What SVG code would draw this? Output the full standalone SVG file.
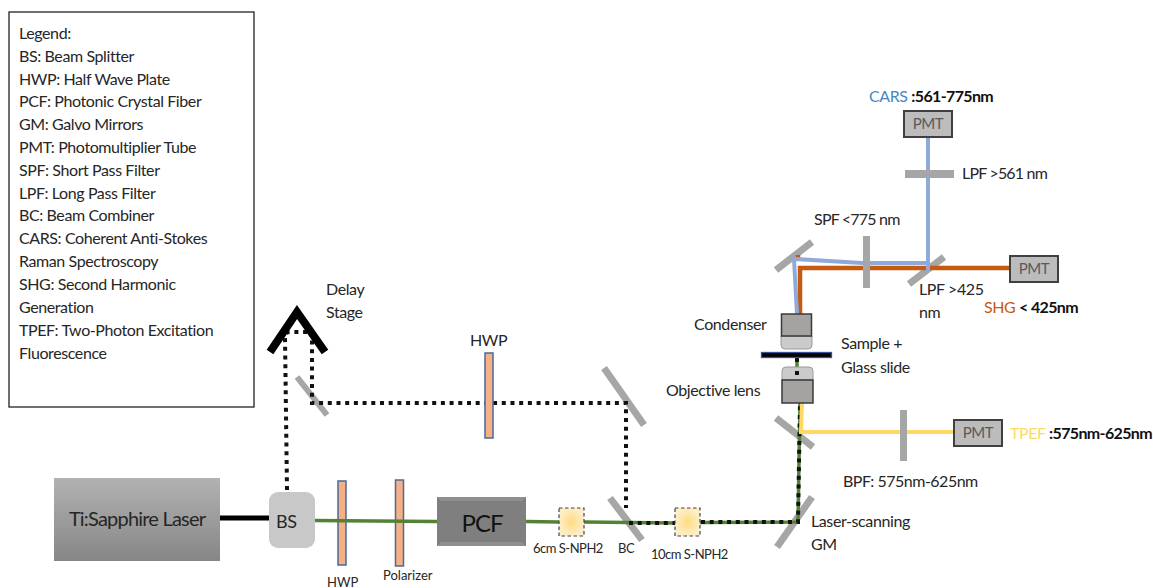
<svg xmlns="http://www.w3.org/2000/svg" width="1153" height="588" viewBox="0 0 1153 588">
<style>
text{font-family:Lato,"Noto Sans","Liberation Sans",sans-serif;font-size:16px;letter-spacing:-.4px;fill:#262626}
.s{font-size:13px;letter-spacing:-.5px}
.s0{font-size:13px;letter-spacing:0}
.b{font-weight:700;fill:#111;letter-spacing:-.65px}
.m{stroke:#a6a6a6;stroke-width:7;fill:none}
.plate{fill:#f4b183;stroke:#4a6a9f;stroke-width:1.5}
.pmt{fill:#bcbcbc;stroke:#404040;stroke-width:2}
.pt{font-size:15px;fill:#595959;text-anchor:middle}
.obj{fill:#a5a2a2;stroke:#3a3a3a;stroke-width:1.5}
.lens{fill:#cbcbcb;stroke:#9a9a9a;stroke-width:1}
.nph{fill:url(#y);stroke:#444;stroke-width:1.2;stroke-dasharray:3.5 2.5}
.g{stroke:#548235;stroke-width:3.5;fill:none}
.d{stroke:#111;stroke-width:4;stroke-dasharray:4 4.7;fill:none}
.bl{stroke:#8eaadb;stroke-width:4;fill:none}
.o{stroke:#c55a11;stroke-width:4.500;fill:none}
.ye{stroke:#ffd966;stroke-width:4;fill:none}
</style>
<defs>
<linearGradient id="lg" x1="0" y1="0" x2="0" y2="1"><stop offset="0" stop-color="#b2b2b2"/><stop offset="1" stop-color="#868686"/></linearGradient>
<radialGradient id="y"><stop offset="0" stop-color="#ffdc80"/><stop offset="1" stop-color="#fdeec8"/></radialGradient>
</defs>

<g id="legend">
<rect x="9" y="12" width="245" height="395" fill="#fff" stroke="#222" stroke-width="1.3"/>
<text x="19" y="39">Legend:</text>
<text x="19" y="62">BS: Beam Splitter</text>
<text x="19" y="85">HWP: Half Wave Plate</text>
<text x="19" y="107">PCF: Photonic Crystal Fiber</text>
<text x="19" y="130">GM: Galvo Mirrors</text>
<text x="19" y="153">PMT: Photomultiplier Tube</text>
<text x="19" y="176">SPF: Short Pass Filter</text>
<text x="19" y="199">LPF: Long Pass Filter</text>
<text x="19" y="221">BC: Beam Combiner</text>
<text x="19" y="244">CARS: Coherent Anti-Stokes</text>
<text x="19" y="267">Raman Spectroscopy</text>
<text x="19" y="290">SHG: Second Harmonic</text>
<text x="19" y="313">Generation</text>
<text x="19" y="336">TPEF: Two-Photon Excitation</text>
<text x="19" y="359">Fluorescence</text>
</g>

<g id="laser">
<rect x="54" y="478" width="166" height="83" fill="url(#lg)"/>
<text x="137" y="526" text-anchor="middle" style="font-size:20px;letter-spacing:-.8px">Ti:Sapphire Laser</text>
</g>
<g id="hwp-bottom"><rect class="plate" x="338" y="481" width="8" height="84"/></g>
<g id="polarizer"><rect class="plate" x="395.500" y="480" width="8" height="86"/></g>
<g id="mirror-delay"><path class="m" d="M297 377L327 415" style="stroke-width:6"/></g>
<g id="mirror-top"><path class="m" d="M604 368L644 425"/></g>
<g id="mirror-bc"><path class="m" d="M610 498L642 540"/></g>
<g id="mirror-gm"><path class="m" d="M777 547L812 497"/></g>
<g id="mirror-dichroic"><path class="m" d="M776 418L813 447"/></g>
<g id="mirror-upper"><path class="m" d="M776 270L812 242"/></g>
<g id="mirror-lpf425"><path class="m" d="M909 284L944 257"/></g>

<g id="connectors">
<path d="M220 518H270" stroke="#000" stroke-width="5" fill="none"/>
<path class="g" d="M314 520.500L437 521.500"/>
<path class="g" d="M526 521.500L559 522M584 522L675 523M700 522.500L798 522L800 403"/>
<path class="g" d="M797 358V367"/>
<path class="d" d="M287 490L285 337Q285 332 290 332H312V403H626V508"/>
<path class="d" d="M629 523H675M701 522H798L800 403"/>
<path class="d" d="M797 358V365M797 371V376"/>
<path class="ye" d="M802 403L801 432H954"/>
<path class="o" d="M798 255V258M800 315L800 268L862 268H1010"/>
<path class="bl" d="M797 314L794 259L862 263H928M928 137V272"/>
</g>

<g id="delay-stage"><path d="M270 352L297 312L325 352" fill="none" stroke="#000" stroke-width="8"/></g>
<g id="bs">
<rect x="269" y="492" width="46" height="56" rx="9" fill="#c8c8c8"/>
<text x="276" y="528" style="font-size:18px;letter-spacing:-.5px">BS</text>
</g>
<g id="pcf">
<rect x="437" y="497" width="89" height="49" fill="#7f7f7f"/>
<path d="M437 497h89l-4 4h-81zM437 546h89l-4-4h-81z" fill="#8f8f8f"/>
<text x="482" y="532" text-anchor="middle" style="font-size:24px;letter-spacing:-1px;fill:#111">PCF</text>
</g>
<g id="nph-6"><rect class="nph" x="559" y="508" width="25" height="28"/></g>
<g id="nph-10"><rect class="nph" x="675" y="508" width="25" height="28"/></g>
<g id="hwp-top"><rect class="plate" x="485" y="353" width="8" height="85"/></g>
<g id="spf"><rect x="863" y="236" width="7" height="52" fill="#a6a6a6"/></g>
<g id="lpf561"><rect x="905" y="170" width="49" height="8" fill="#a6a6a6"/></g>
<g id="bpf"><rect x="900" y="410" width="7" height="51" fill="#a6a6a6"/></g>
<g id="pmt-cars"><rect class="pmt" x="904" y="111" width="48" height="26"/><text class="pt" x="928" y="129">PMT</text></g>
<g id="pmt-shg"><rect class="pmt" x="1010" y="256" width="48" height="26"/><text class="pt" x="1034" y="274">PMT</text></g>
<g id="pmt-tpef"><rect class="pmt" x="954" y="420" width="48" height="26"/><text class="pt" x="978" y="438">PMT</text></g>
<g id="condenser">
<path class="lens" d="M781 336H812V345Q812 349 808 349H785Q781 349 781 345Z"/>
<rect class="obj" x="781.500" y="314" width="30" height="22"/>
</g>
<g id="slide"><rect x="761.500" y="352.500" width="70" height="5" fill="#000" stroke="#2f5597" stroke-width="1.3"/></g>
<g id="objective">
<path class="lens" d="M782 380V371Q782 367 786 367H809Q813 367 813 371V380Z"/>
<rect x="795" y="371" width="4" height="4" fill="#111"/>
<rect class="obj" x="782" y="380" width="31" height="23"/>
</g>

<g id="labels">
<text x="326" y="295">Delay</text>
<text x="326" y="318">Stage</text>
<text x="470" y="346">HWP</text>
<text class="s0" x="327" y="587">HWP</text>
<text class="s0" x="383" y="580">Polarizer</text>
<text class="s" x="533" y="553">6cm S-NPH2</text>
<text class="s" x="618" y="553">BC</text>
<text class="s" x="651" y="559">10cm S-NPH2</text>
<text x="811" y="527">Laser-scanning</text>
<text x="811" y="550">GM</text>
<text x="843" y="487" style="letter-spacing:-.5px">BPF: 575nm-625nm</text>
<text x="666" y="396">Objective lens</text>
<text x="694" y="330">Condenser</text>
<text x="841" y="349">Sample +</text>
<text x="841" y="373">Glass slide</text>
<text x="919" y="295">LPF &gt;425</text>
<text x="919" y="318">nm</text>
<text x="814" y="225" style="letter-spacing:-.8px">SPF &lt;775 nm</text>
<text x="962" y="179" style="letter-spacing:-.8px">LPF &gt;561 nm</text>
<text x="869" y="102"><tspan style="fill:#4a86c5">CARS </tspan><tspan class="b">:561-775nm</tspan></text>
<text x="984" y="313"><tspan style="fill:#c55a11">SHG </tspan><tspan class="b">&lt; 425nm</tspan></text>
<text x="1010" y="439"><tspan style="fill:#ffd966">TPEF </tspan><tspan class="b">:575nm-625nm</tspan></text>
</g>
</svg>
